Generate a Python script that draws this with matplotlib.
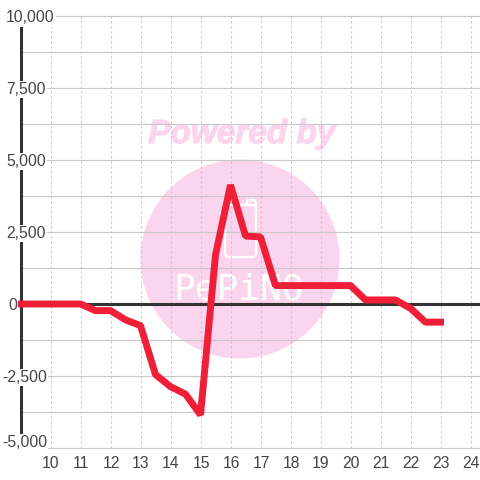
import matplotlib
matplotlib.use('Agg')
import matplotlib.pyplot as plt
import matplotlib.patheffects as pe
from matplotlib.patches import Circle, FancyBboxPatch
from matplotlib.lines import Line2D

plt.rcParams['font.family'] = ['Liberation Sans', 'DejaVu Sans']

hours = [9, 9.5, 10, 10.5, 11, 11.5, 12, 12.5, 13, 13.5, 14, 14.5, 15, 15.5, 16, 16.5, 17, 17.5,
         18, 18.5, 19, 19.5, 20, 20.5, 21, 21.5, 22, 22.5, 23]
values = [0, 0, 0, 0, 0, -230, -230, -550, -750, -2450, -2870, -3130, -3850, 1700, 4130, 2360, 2330, 640,
          640, 640, 640, 640, 640, 140, 140, 140, -150, -630, -630]
x_ticks = list(range(10, 25))
y_major = [10000, 7500, 5000, 2500, 0, -2500, -5000]
y_labels = ['10,000', '7,500', '5,000', '2,500', '0', '-2,500', '-5,000']
y_minor = [8750, 6250, 3750, 1250, -1250, -3750]

W = 480
fig = plt.figure(figsize=(4.8, 4.8), dpi=100, facecolor='white')
ax = fig.add_axes([20.5 / W, 32 / W, 459.5 / W, 432 / W], zorder=1)
ax.patch.set_alpha(0)
ax.set_xlim(9, 9 + 459.5 / 30)
ax.set_ylim(-5000, 10000)
for s in ax.spines.values():
    s.set_visible(False)
ax.set_xticks([])
ax.set_yticks([])

# watermark (figure pixel coordinates, y flipped)
pink = '#fbd5ee'
def fx(p): return p / W
def fy(p): return 1 - p / W
fig.add_artist(Circle((fx(240), fy(259)), 99.5 / W, transform=fig.transFigure, fc=pink, ec='none', zorder=-3))
fig.text(fx(242), fy(134.5), 'Powered by', color=pink, fontsize=24, fontweight='bold', style='italic',
         ha='center', va='center', zorder=-3, family=['Liberation Sans'],
         path_effects=[pe.withStroke(linewidth=0.9, foreground=pink)])
fig.add_artist(FancyBboxPatch((fx(225), fy(257)), 31 / W, 52 / W, boxstyle='round,pad=0,rounding_size=0.008',
                              transform=fig.transFigure, fc='none', ec='white', lw=1.6, zorder=-2))
fig.add_artist(Line2D([fx(246), fx(248), fx(254), fx(256), fx(256)], [fy(205), fy(200), fy(200), fy(202), fy(207)],
                      transform=fig.transFigure, color='white', lw=1.6, zorder=-2))
fig.text(fx(239), fy(289), 'PePiNO', color='white', fontsize=26, ha='center', va='center', zorder=-2,
         family=['DejaVu Sans Mono'])

grid = '#c8c8c8'
for v in y_major + y_minor:
    if v != 0:
        ax.axhline(v, color=grid, lw=0.85, zorder=1, clip_on=False)
for t in x_ticks:
    ax.axvline(t, color=grid, lw=0.8, ls=(0, (2, 2.5)), zorder=1)
ax.axhline(0, color='#333333', lw=2.2, zorder=2, clip_on=False)
ax.axvline(9, color='#333333', lw=2.2, zorder=2, clip_on=False)

ax.plot(hours, values, color='#f01f38', lw=5.0, solid_joinstyle='bevel', solid_capstyle='projecting',
        zorder=5, clip_on=False)

txt = '#444444'
lab_px = [6, 6, 6, 6, 8, 2, 2]
for v, s, px in zip(y_major, y_labels, lab_px):
    py = 304 - v * 72 / 2500
    if v == -5000:
        py = 441
    if v == 10000:
        py = 16.5
    fig.text(fx(px), fy(py), s, color=txt, fontsize=11.3, ha='left', va='center_baseline', zorder=4,
             bbox=dict(fc='white', ec='none', pad=0.9))
for t in x_ticks:
    ax.annotate(str(t), (t, -5000), xytext=(0.5, -8), textcoords='offset pixels', color=txt, fontsize=11.3,
                ha='center', va='top', annotation_clip=False)

fig.savefig('out.png', dpi=100)
